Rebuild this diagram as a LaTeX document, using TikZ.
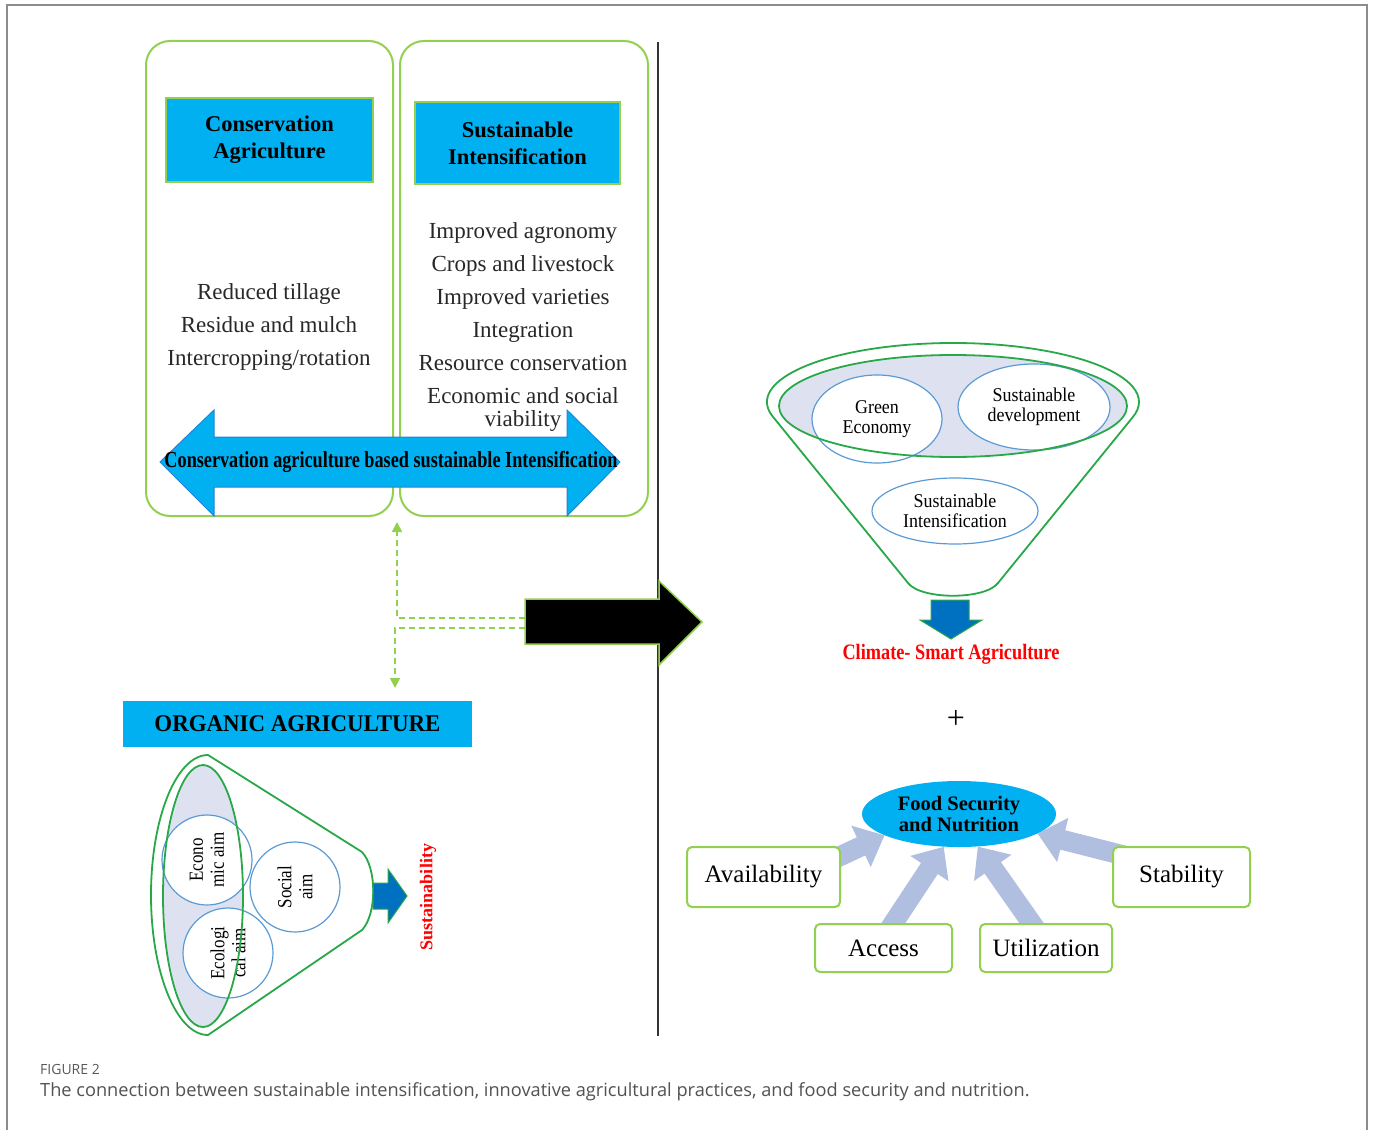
\documentclass[tikz,border=0pt]{standalone}
\usepackage{fontspec}
\usepackage{graphicx}
\setmainfont{Liberation Serif}
\newfontfamily\capfont{Open Sans}
\usetikzlibrary{arrows.meta,shapes.geometric,calc}
\pgfdeclarelayer{back}
\pgfsetlayers{back,main}
\definecolor{lg}{RGB}{146,208,80}
\definecolor{cy}{RGB}{0,176,240}
\definecolor{fg}{RGB}{40,168,72}
\definecolor{cb}{RGB}{91,155,213}
\definecolor{lav}{RGB}{222,226,240}
\definecolor{fatc}{RGB}{176,190,224}
\definecolor{db}{RGB}{0,112,192}
\definecolor{dbo}{RGB}{40,130,210}
\definecolor{framec}{RGB}{140,140,140}
\definecolor{txt}{RGB}{40,40,40}
\newcommand{\fitw}[2]{\resizebox{#1}{\height}{#2}}
\newcommand{\fsz}[2]{\fontsize{#1}{#2}\selectfont}
\begin{document}
\begin{tikzpicture}[x=1pt,y=-1pt,
  gbox/.style={draw=lg, line width=2pt, rounded corners=24pt, inner sep=0pt},
  hdr/.style={draw=lg, line width=1.8pt, fill=cy, align=center, inner sep=0pt, font=\fsz{22.5}{27}\bfseries},
  body/.style={align=center, text=txt, font=\fsz{23}{33}},
  blueell/.style={ellipse, draw=cb, line width=1.2pt, fill=white, inner sep=0pt, align=center, font=\fsz{19.5}{20}},
  bluecirc/.style={circle, draw=cb, line width=1.2pt, fill=white, inner sep=0pt, minimum size=90pt, align=center, rotate=90, font=\fsz{20}{21}},
  fsbox/.style={draw=lg, line width=2pt, rounded corners=5pt, fill=white, inner sep=0pt, font=\fsz{25}{30}},
  fatarr/.style={draw=fatc, line width=20pt, -{Triangle[width=44pt,length=26pt]}},
  dashc/.style={draw=lg, line width=1.6pt, dash pattern=on 6pt off 4pt, -{Triangle[width=10pt,length=10pt]}},
  funnel/.style={draw=fg, line width=1.8pt},
]
\useasboundingbox (0,0) rectangle (1375,1129);
\begin{pgfonlayer}{back}
\fill[white] (0,0) rectangle (1375,1129);
\end{pgfonlayer}
% outer frame
\draw[framec, line width=1.5pt] (7,1135) -- (7,5) -- (1367,5) -- (1367,1135);

% ---------- upper left panel ----------
\node[gbox, minimum width=247pt, minimum height=475pt] (ca) at (269.5,278.5) {};
\node[gbox, minimum width=248pt, minimum height=475pt] (si) at (524,278.5) {};
\node[hdr, minimum width=207pt, minimum height=84pt] (cahdr) at (269.5,140) {Conservation\\Agriculture};
\node[hdr, minimum width=205pt, minimum height=82pt] (sihdr) at (517.5,143) {Sustainable\\Intensification};
\node[body] (calist) at (269,327) {Reduced tillage\\Residue and mulch\\Intercropping/rotation};
\node[body] (silist) at (523,327) {Improved agronomy\\Crops and livestock\\Improved varieties\\Integration\\Resource conservation\\Economic and social\\[-10pt]viability};

% double arrow
\filldraw[fill=cy, draw=dbo, line width=1pt]
  (160,462) -- (214,410) -- (214,437) -- (567,437) -- (567,410) -- (620,462)
  -- (567,516) -- (567,487) -- (214,487) -- (214,516) -- cycle;
\node[font=\fsz{23}{23}\bfseries] (casi) at (391,462) {\fitw{453pt}{Conservation agriculture based sustainable Intensification}};

% divider
\draw[black!80, line width=2pt] (658,42) -- (658,1036);

% black arrow
\filldraw[fill=black, draw=lg, line width=1.5pt]
  (525,599) -- (659,599) -- (659,581) -- (702,622) -- (659,665) -- (659,644) -- (525,644) -- cycle;
\coordinate (ba1) at (525,618);
\coordinate (ba2) at (525,628);
\coordinate (upt) at (397,522);
\coordinate (dnt) at (395,688);
\draw[dashc] (ba1) -| (upt);
\draw[dashc] (ba2) -| (dnt);

% ---------- organic agriculture ----------
\node[fill=cy, minimum width=349pt, minimum height=46pt, inner sep=0pt, font=\fsz{24}{24}\bfseries] (oa) at (297.5,724) {\fitw{286pt}{ORGANIC AGRICULTURE}};
\fill[lav] (203,896) ellipse [x radius=40, y radius=131];
\node[bluecirc] (econ) at (207,860) {\scalebox{0.85}[1]{Econo}\\\scalebox{0.85}[1]{mic aim}};
\node[bluecirc] (soc) at (295,887) {\scalebox{0.85}[1]{Social}\\\scalebox{0.85}[1]{aim}};
\node[bluecirc] (eco) at (228,953) {\scalebox{0.85}[1]{Ecologi}\\\scalebox{0.85}[1]{cal aim}};
\draw[funnel] (203,896) ellipse [x radius=40, y radius=131];
\draw[funnel] (208,755) arc[start angle=270, end angle=90, x radius=57, y radius=140]
  -- (362,930) .. controls (377,914) and (377,868) .. (362,852) -- cycle;
\filldraw[fill=db, draw=fg, line width=1pt]
  (373,883) -- (388,883) -- (388,869) -- (407,896) -- (388,923) -- (388,909) -- (373,909) -- cycle;
\node[rotate=90, text=red, font=\fsz{18}{18}\bfseries] (sust) at (428,897) {Sustainability};

% ---------- right funnel ----------
\draw[funnel] (953,402) ++(165:186 and 59) arc[start angle=165, end angle=375, x radius=186, y radius=59]
  -- (998,583) .. controls (985,600) and (921,600) .. (908,583) -- cycle;
\fill[lav] (953,406) ellipse [x radius=174, y radius=51];
\node[blueell, minimum width=130pt, minimum height=88pt] (ge) at (877,419) {\scalebox{0.92}[1]{Green}\\\scalebox{0.92}[1]{Economy}};
\node[blueell, minimum width=152pt, minimum height=86pt] (sd) at (1034,407) {\scalebox{0.92}[1]{Sustainable}\\\scalebox{0.92}[1]{development}};
\node[blueell, minimum width=166pt, minimum height=66pt] (sint) at (955,511) {\scalebox{0.92}[1]{Sustainable}\\\scalebox{0.92}[1]{Intensification}};
\draw[funnel] (953,406) ellipse [x radius=174, y radius=51];
\filldraw[fill=db, draw=fg, line width=1pt]
  (931,600) -- (969,600) -- (969,620) -- (982,620) -- (951,639) -- (920,620) -- (931,620) -- cycle;
\node[text=red, font=\fsz{22}{22}\bfseries] (csa) at (951,654) {\fitw{217pt}{Climate- Smart Agriculture}};
\node[font=\fsz{32}{32}] (plus) at (956,719) {+};

% ---------- food security ----------
\node[ellipse, fill=cy, minimum width=194pt, minimum height=66pt, inner sep=0pt, align=center, font=\fsz{20.5}{21}\bfseries] (fs) at (959,814) {Food Security\\and Nutrition};
\node[fsbox, minimum width=153pt, minimum height=60pt] (avail) at (763.5,877) {Availability};
\node[fsbox, minimum width=137pt, minimum height=48pt] (acc) at (883.5,948) {Access};
\node[fsbox, minimum width=132pt, minimum height=48pt] (util) at (1046,948) {Utilization};
\node[fsbox, minimum width=137pt, minimum height=60pt] (stab) at (1181.5,877) {Stability};
\begin{pgfonlayer}{back}
\draw[fatarr] ($(avail.north east)+(-22,20)$) -- (fs.196);
\draw[fatarr] ($(acc.north)+(0,15)$) -- (fs.245);
\draw[fatarr] ($(util.north)+(-4,15)$) -- (fs.300);
\draw[fatarr] ($(stab.north west)+(22,12)$) -- (fs.346);
\end{pgfonlayer}

% ---------- caption ----------
\node[anchor=west, text=black!65, font=\capfont\fsz{14}{14}, inner sep=0pt] (figno) at (40,1069) {FIGURE 2};
\node[anchor=west, text=black!68, font=\capfont\fsz{18.2}{18}, inner sep=0pt] (cap) at (40,1092) {The connection between sustainable intensification, innovative agricultural practices, and food security and nutrition.};
\end{tikzpicture}
\end{document}
